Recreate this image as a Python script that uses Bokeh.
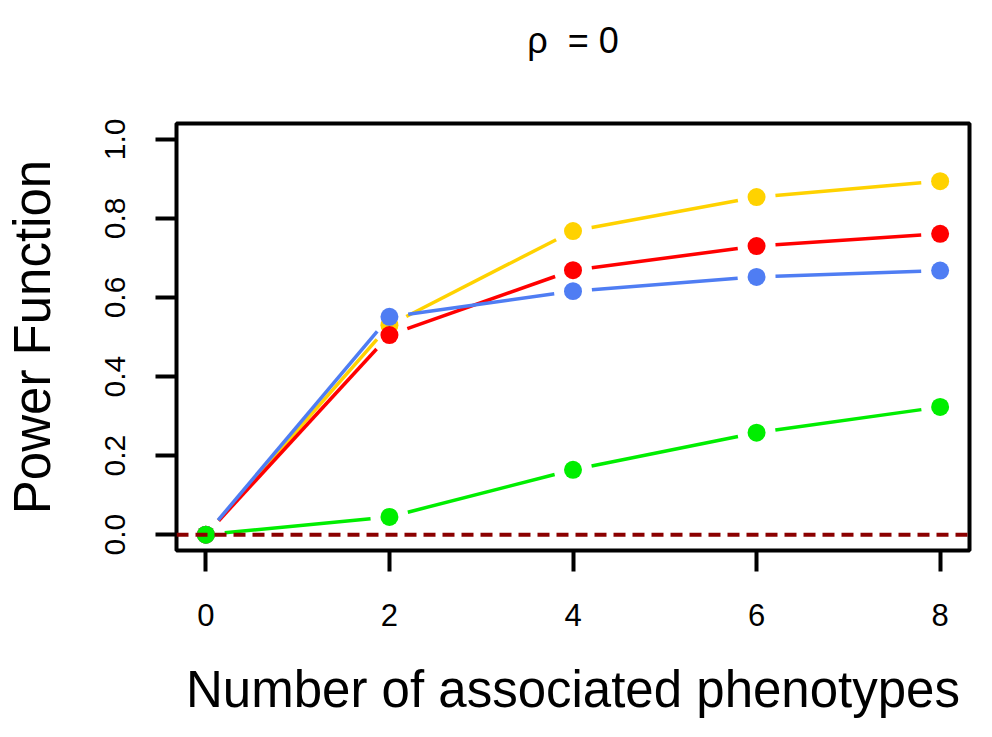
import math
from bokeh.plotting import figure
from bokeh.models import Range1d, FixedTicker, Span, CustomJSTickFormatter, LinearAxis
from bokeh.embed import file_html
from bokeh.resources import INLINE

# ---- data ----
x_vals = [0, 2, 4, 6, 8]
power_yellow = [0.0, 0.530, 0.768, 0.854, 0.894]
power_red = [0.0, 0.505, 0.669, 0.730, 0.761]
power_blue = [0.0, 0.551, 0.616, 0.652, 0.668]
power_green = [0.0, 0.045, 0.164, 0.258, 0.323]
series_colors = ["#FFD200", "#FF0000", "#4F7DF3", "#00EE00"]
x_ticks = [0, 2, 4, 6, 8]
y_ticks = [0.0, 0.2, 0.4, 0.6, 0.8, 1.0]
title_text = "\u03c1\u00a0\u00a0= 0"
x_label = "Number of associated phenotypes"
y_label = "Power Function"

# ---- layout ----
W, H = 984, 729
BL, BR, BT, BB = 174, 15, 123, 179
FRAME_W = W - BL - BR
FRAME_H = H - BT - BB
X0, X1 = -0.32, 8.32
Y0, Y1 = -0.04, 1.04
FONT = "Liberation Sans"

p = figure(width=W, height=H, output_backend="svg", toolbar_location=None,
           x_range=Range1d(X0, X1), y_range=Range1d(Y0, Y1),
           min_border_left=BL, min_border_right=BR,
           min_border_top=BT, min_border_bottom=BB,
           background_fill_color="white", border_fill_color="white")

p.grid.visible = False
p.outline_line_color = "black"
p.outline_line_width = 4

xa = p.below[0]
ya = p.left[0]

# the title, centred over the frame, carried by a tick-less top axis
top = LinearAxis(ticker=FixedTicker(ticks=[]), axis_line_color=None,
                 major_tick_line_color=None, minor_tick_line_color=None,
                 major_tick_out=0, major_tick_in=0, major_label_standoff=0,
                 axis_label=title_text, axis_label_standoff=63,
                 axis_label_text_font=FONT, axis_label_text_font_size="36px",
                 axis_label_text_font_style="normal",
                 axis_label_text_color="black")
p.add_layout(top, "above")

for ax in (xa, ya):
    ax.axis_line_color = None
    ax.major_tick_line_color = "black"
    ax.major_tick_line_width = 4
    ax.major_tick_out = 21
    ax.major_tick_in = 0
    ax.minor_tick_line_color = None
    ax.major_label_text_font = FONT
    ax.major_label_text_color = "black"
    ax.axis_label_text_font = FONT
    ax.axis_label_text_font_style = "normal"
    ax.axis_label_text_color = "black"
    ax.axis_label_text_font_size = "51px"

xa.ticker = FixedTicker(ticks=x_ticks)
xa.major_label_text_font_size = "31px"
xa.major_label_standoff = 32
xa.axis_label = x_label
xa.axis_label_standoff = 32

ya.ticker = FixedTicker(ticks=y_ticks)
ya.formatter = CustomJSTickFormatter(code="return tick.toFixed(1);")
ya.major_label_orientation = "vertical"
ya.major_label_text_font_size = "30px"
ya.major_label_standoff = 30
ya.axis_label = y_label
ya.axis_label_standoff = 42

# pixels per data unit (to leave R-style "type b" gaps around points)
sx = FRAME_W / (X1 - X0)
sy = FRAME_H / (Y1 - Y0)
GAP = 19.0

all_series = [power_yellow, power_red, power_blue, power_green]
for ys, col in zip(all_series, series_colors):
    x0s, y0s, x1s, y1s = [], [], [], []
    for i in range(len(x_vals) - 1):
        dxp = (x_vals[i + 1] - x_vals[i]) * sx
        dyp = (ys[i + 1] - ys[i]) * sy
        L = math.hypot(dxp, dyp)
        if L <= 2 * GAP:
            continue
        f = GAP / L
        dx = x_vals[i + 1] - x_vals[i]
        dy = ys[i + 1] - ys[i]
        x0s.append(x_vals[i] + f * dx)
        y0s.append(ys[i] + f * dy)
        x1s.append(x_vals[i + 1] - f * dx)
        y1s.append(ys[i + 1] - f * dy)
    p.segment(x0=x0s, y0=y0s, x1=x1s, y1=y1s, line_color=col, line_width=3.5)
    p.scatter(x=x_vals, y=ys, size=18, fill_color=col, line_color=None)

p.add_layout(Span(location=0, dimension="width", line_color="#8B0000",
                  line_width=4, line_dash="12 7"))

open("out.html", "w").write(file_html(p, INLINE))
